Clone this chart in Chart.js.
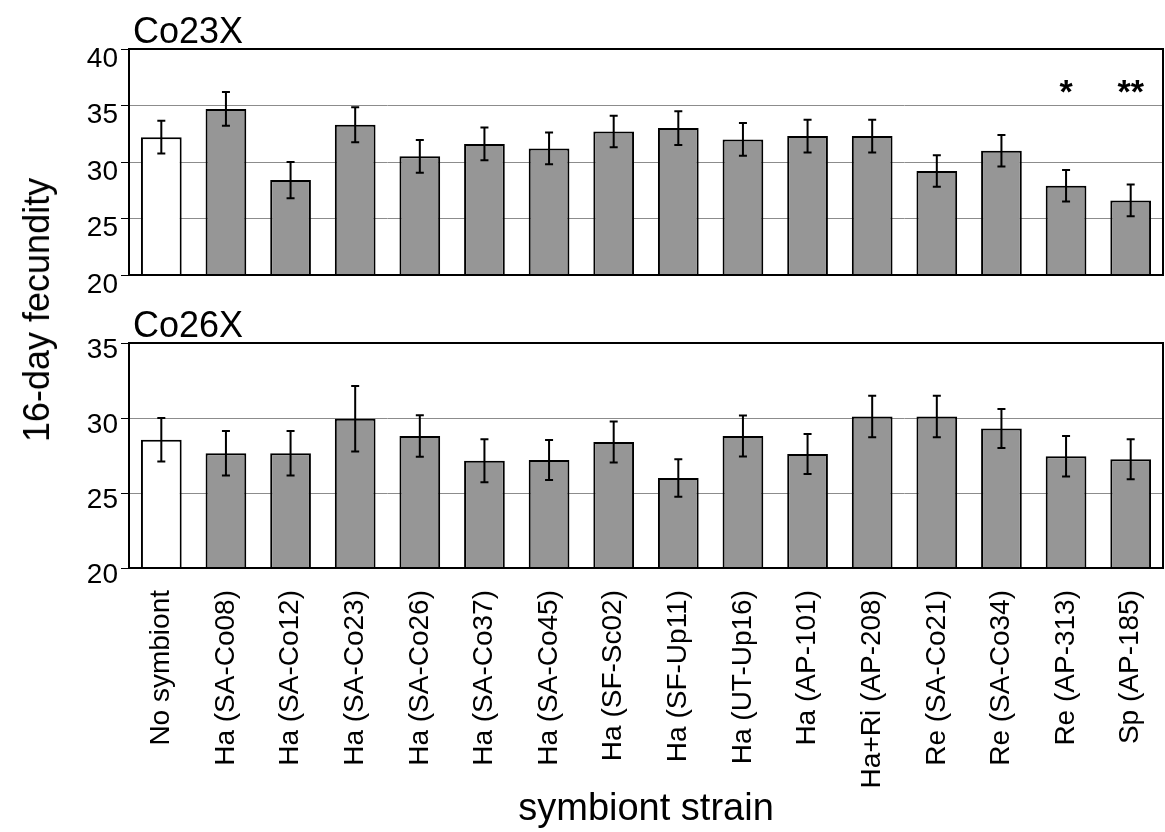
<!DOCTYPE html>
<html>
<head>
<meta charset="utf-8">
<script src="https://cdn.jsdelivr.net/npm/chart.js@4"></script>
<style>
  body { margin: 0; background: #fff; }
  #wrap { position: relative; width: 1165px; height: 832px; font-family: "Liberation Sans", Arial, sans-serif; }
  #topBox { position: absolute; left: 0; top: 0; width: 1165px; height: 300px; }
  #bottomBox { position: absolute; left: 0; top: 300px; width: 1165px; height: 532px; }
  #yTitle {
    position: absolute; left: 37px; top: 310px;
    transform: translate(-50%, -50%) rotate(-90deg);
    font-size: 36px; white-space: nowrap; color: #000;
  }
</style>
</head>
<body>
<div id="wrap">
  <div id="topBox"><canvas id="topChart" width="1165" height="300"></canvas></div>
  <div id="bottomBox"><canvas id="bottomChart" width="1165" height="532"></canvas></div>
  <div id="yTitle">16-day fecundity</div>
</div>
<script>
const strains = ['No symbiont', 'Ha (SA-Co08)', 'Ha (SA-Co12)', 'Ha (SA-Co23)', 'Ha (SA-Co26)',
  'Ha (SA-Co37)', 'Ha (SA-Co45)', 'Ha (SF-Sc02)', 'Ha (SF-Up11)', 'Ha (UT-Up16)', 'Ha (AP-101)',
  'Ha+Ri (AP-208)', 'Re (SA-Co21)', 'Re (SA-Co34)', 'Re (AP-313)', 'Sp (AP-185)'];

// Co23X line
const co23xMeans = [32.2, 34.7, 28.4, 33.3, 30.5, 31.6, 31.2, 32.7, 33.0, 32.0, 32.3, 32.3, 29.2, 31.0, 27.9, 26.6];
const co23xErr = [1.45, 1.5, 1.6, 1.55, 1.45, 1.45, 1.4, 1.4, 1.5, 1.45, 1.45, 1.45, 1.4, 1.4, 1.4, 1.4];
const co23xMarks = ['', '', '', '', '', '', '', '', '', '', '', '', '', '', '*', '**'];

// Co26X line
const co26xMeans = [28.55, 27.65, 27.65, 29.95, 28.8, 27.15, 27.2, 28.4, 26.0, 28.8, 27.6, 30.1, 30.1, 29.3, 27.45, 27.25];
const co26xErr = [1.45, 1.48, 1.48, 2.18, 1.38, 1.44, 1.33, 1.37, 1.25, 1.37, 1.33, 1.38, 1.38, 1.3, 1.35, 1.33];
const co26xMarks = [];

const co23xTicks = { min: 20, max: 40, step: 5 };
const co26xTicks = { min: 20, max: 35, step: 5 };

const FONT = '"Liberation Sans", Arial, sans-serif';
const barColors = strains.map((s, i) => i === 0 ? '#ffffff' : '#969696');

// error bars, frame, panel title and significance stars
const panelExtras = {
  id: 'panelExtras',
  afterDatasetsDraw(chart, args, opts) {
    const { ctx, chartArea: a } = chart;
    const x = chart.scales.x, y = chart.scales.y;
    ctx.save();
    ctx.strokeStyle = '#000';
    ctx.lineWidth = 2;
    opts.means.forEach((m, i) => {
      const cx = x.getPixelForValue(i);
      const yt = y.getPixelForValue(m + opts.err[i]);
      const yb = y.getPixelForValue(m - opts.err[i]);
      ctx.beginPath();
      ctx.moveTo(cx, yt); ctx.lineTo(cx, yb);
      ctx.moveTo(cx - 4, yt); ctx.lineTo(cx + 4, yt);
      ctx.moveTo(cx - 4, yb); ctx.lineTo(cx + 4, yb);
      ctx.stroke();
    });
    ctx.strokeRect(a.left, a.top, a.right - a.left, a.bottom - a.top);

    ctx.fillStyle = '#000';
    ctx.font = '36px ' + FONT;
    ctx.textAlign = 'left';
    ctx.textBaseline = 'alphabetic';
    ctx.fillText(opts.title, a.left + 4, a.top - 6);

    ctx.font = 'bold 34px ' + FONT;
    ctx.textAlign = 'center';
    ctx.textBaseline = 'middle';
    opts.marks.forEach((s, i) => {
      if (!s) return;
      ctx.fillText(s, x.getPixelForValue(i), y.getPixelForValue(opts.markAt) + 6);
    });
    ctx.restore();
  }
};

function makePanel(canvasId, means, err, marks, ticks, title, showX) {
  return new Chart(document.getElementById(canvasId), {
    type: 'bar',
    data: {
      labels: strains,
      datasets: [{
        data: means,
        backgroundColor: barColors,
        borderColor: '#000',
        borderWidth: 2,
        borderSkipped: false,
        barPercentage: 0.63,
        categoryPercentage: 1
      }]
    },
    options: {
      responsive: false,
      animation: false,
      devicePixelRatio: 1,
      layout: { padding: showX ? { top: 43, right: 2, bottom: 0, left: 0 } : { top: 49, right: 2, bottom: 25, left: 0 } },
      plugins: {
        legend: { display: false },
        tooltip: { enabled: false },
        panelExtras: { means: means, err: err, marks: marks, title: title, markAt: 36.6 }
      },
      scales: {
        x: {
          display: showX,
          grid: { display: false },
          border: { display: false },
          ticks: {
            color: '#000',
            font: { family: FONT, size: 28 },
            maxRotation: 90,
            minRotation: 90,
            padding: 14,
            autoSkip: false
          },
          title: {
            display: true,
            text: 'symbiont strain',
            color: '#000',
            font: { family: FONT, size: 38 },
            padding: { top: 0, bottom: 0 }
          },
          afterFit: (s) => {
            if (!showX) return;
            s.height = 264;
            s.paddingLeft = 0;
            s.paddingRight = 0;
          }
        },
        y: {
          min: ticks.min,
          max: ticks.max,
          border: { display: false },
          grid: { color: '#8c8c8c', lineWidth: 1, tickLength: 8, tickColor: '#000', tickWidth: 1 },
          ticks: {
            stepSize: ticks.step,
            color: '#000',
            padding: 3,
            labelOffset: showX ? 7 : 10,
            font: { family: FONT, size: 28 }
          },
          afterFit: (s) => { s.width = 129; }
        }
      }
    },
    plugins: [panelExtras]
  });
}

makePanel('topChart', co23xMeans, co23xErr, co23xMarks, co23xTicks, 'Co23X', false);
makePanel('bottomChart', co26xMeans, co26xErr, co26xMarks, co26xTicks, 'Co26X', true);
</script>
</body>
</html>
